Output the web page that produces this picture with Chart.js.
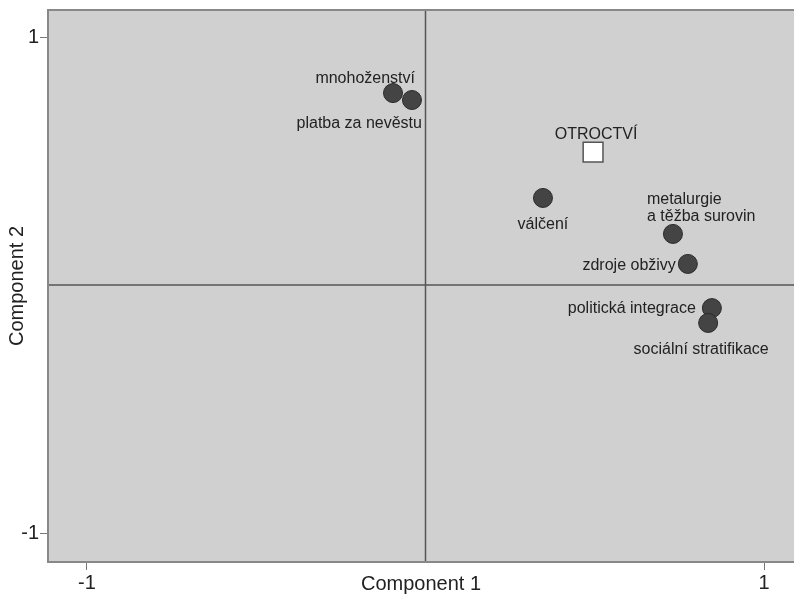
<!DOCTYPE html>
<html>
<head>
<meta charset="utf-8">
<script src="https://cdn.jsdelivr.net/npm/chart.js@4/dist/chart.umd.min.js"></script>
<style>
  body { margin: 0; background: #fff; }
  canvas { display: block; }
</style>
</head>
<body>
<canvas id="chart" width="794" height="596"></canvas>
<script>
// active variables (circles)
const names = [
  "mnohoženství",
  "platba za nevěstu",
  "válčení",
  "metalurgie\na těžba surovin",
  "zdroje obživy",
  "politická integrace",
  "sociální stratifikace",
];
const comp1 = [-0.096, -0.040, 0.347, 0.731, 0.775, 0.846, 0.835];
const comp2 = [0.774, 0.746, 0.351, 0.206, 0.085, -0.093, -0.153];

// supplementary variable (square)
const suppNames = ["OTROCTVÍ"];
const suppComp1 = [0.495];
const suppComp2 = [0.536];

const tickValues = [-1, 1];

// where each label sits relative to its marker
const labelPlace = {
  "mnohoženství": { align: "right", dx: 22, dy: -14 },
  "platba za nevěstu": { align: "right", dx: 10, dy: 24 },
  "válčení": { align: "center", dx: 0, dy: 27 },
  "metalurgie\na těžba surovin": { align: "left", dx: -26, dy: -34 },
  "zdroje obživy": { align: "right", dx: -12, dy: 2 },
  "politická integrace": { align: "right", dx: -16, dy: 1 },
  "sociální stratifikace": { align: "center", dx: -7, dy: 27 },
  "OTROCTVÍ": { align: "center", dx: 3, dy: -17 },
};

const toPoints = (xs, ys) => xs.map((x, i) => ({ x: x, y: ys[i] }));

const plotFrame = {
  id: "plotFrame",
  beforeDatasetsDraw(chart) {
    const { ctx, chartArea: a, scales } = chart;
    ctx.save();
    ctx.fillStyle = "#d0d0d0";
    ctx.fillRect(a.left, a.top, a.right - a.left, a.bottom - a.top);
    // zero lines
    const x0 = scales.x.getPixelForValue(0);
    const y0 = scales.y.getPixelForValue(0);
    ctx.strokeStyle = "#555";
    ctx.lineWidth = 1.5;
    ctx.beginPath();
    ctx.moveTo(x0, a.top);
    ctx.lineTo(x0, a.bottom);
    ctx.moveTo(a.left, y0);
    ctx.lineTo(a.right, y0);
    ctx.stroke();
    // frame
    ctx.strokeStyle = "#888";
    ctx.lineWidth = 2;
    ctx.strokeRect(a.left, a.top, a.right - a.left + 2, a.bottom - a.top);
    ctx.restore();
  },
};

const pointLabels = {
  id: "pointLabels",
  afterDatasetsDraw(chart) {
    const { ctx } = chart;
    ctx.save();
    ctx.font = "16px 'Liberation Sans', Arial, sans-serif";
    ctx.fillStyle = "#222";
    ctx.textBaseline = "middle";
    chart.data.datasets.forEach((ds, d) => {
      const meta = chart.getDatasetMeta(d);
      ds.names.forEach((name, i) => {
        const el = meta.data[i];
        const p = labelPlace[name];
        ctx.textAlign = p.align;
        name.split("\n").forEach((line, k) => {
          ctx.fillText(line, el.x + p.dx, el.y + p.dy + k * 17);
        });
      });
    });
    ctx.restore();
  },
};

const fixTicks = (scale) => {
  scale.ticks = tickValues.map((v) => ({ value: v }));
};

const noPad = (s) => {
  s.paddingLeft = 0;
  s.paddingRight = 0;
  s.paddingTop = 0;
  s.paddingBottom = 0;
};

const chart = new Chart(document.getElementById("chart"), {
  type: "scatter",
  data: {
    datasets: [
      {
        names: names,
        data: toPoints(comp1, comp2),
        pointStyle: "circle",
        pointRadius: 9.5,
        pointHoverRadius: 9.5,
        backgroundColor: "#444",
        borderColor: "#2b2b2b",
        borderWidth: 1,
      },
      {
        names: suppNames,
        data: toPoints(suppComp1, suppComp2),
        pointStyle: "rect",
        pointRadius: 14,
        pointHoverRadius: 14,
        backgroundColor: "#ffffff",
        borderColor: "#555",
        borderWidth: 1.5,
      },
    ],
  },
  options: {
    responsive: false,
    animation: false,
    layout: { autoPadding: false, padding: { top: 10, left: 0, right: 0, bottom: 0 } },
    plugins: { legend: { display: false }, tooltip: { enabled: false } },
    scales: {
      x: {
        type: "linear",
        min: -1.1152,
        max: 1.0886,
        afterBuildTicks: fixTicks,
        afterFit: (s) => { s.height = 34; noPad(s); },
        border: { display: false },
        grid: { drawOnChartArea: false, drawTicks: true, tickLength: 8, color: "#777" },
        ticks: {
          padding: 1,
          color: "#222",
          font: { family: "'Liberation Sans', Arial, sans-serif", size: 20 },
          callback: (v) => String(v),
        },
        title: {
          display: true,
          text: "Component 1",
          color: "#222",
          padding: { top: 0, bottom: 0 },
          font: { family: "'Liberation Sans', Arial, sans-serif", size: 20 },
        },
      },
      y: {
        type: "linear",
        min: -1.1169,
        max: 1.1089,
        afterBuildTicks: fixTicks,
        afterFit: (s) => { s.width = 48; noPad(s); },
        border: { display: false },
        grid: { drawOnChartArea: false, drawTicks: true, tickLength: 8, color: "#777" },
        ticks: {
          padding: 1,
          color: "#222",
          font: { family: "'Liberation Sans', Arial, sans-serif", size: 20 },
          callback: (v) => String(v),
        },
        title: {
          display: true,
          text: "Component 2",
          color: "#222",
          padding: { top: 5, bottom: 0 },
          font: { family: "'Liberation Sans', Arial, sans-serif", size: 20 },
        },
      },
    },
  },
  plugins: [plotFrame, pointLabels],
});
</script>
</body>
</html>
